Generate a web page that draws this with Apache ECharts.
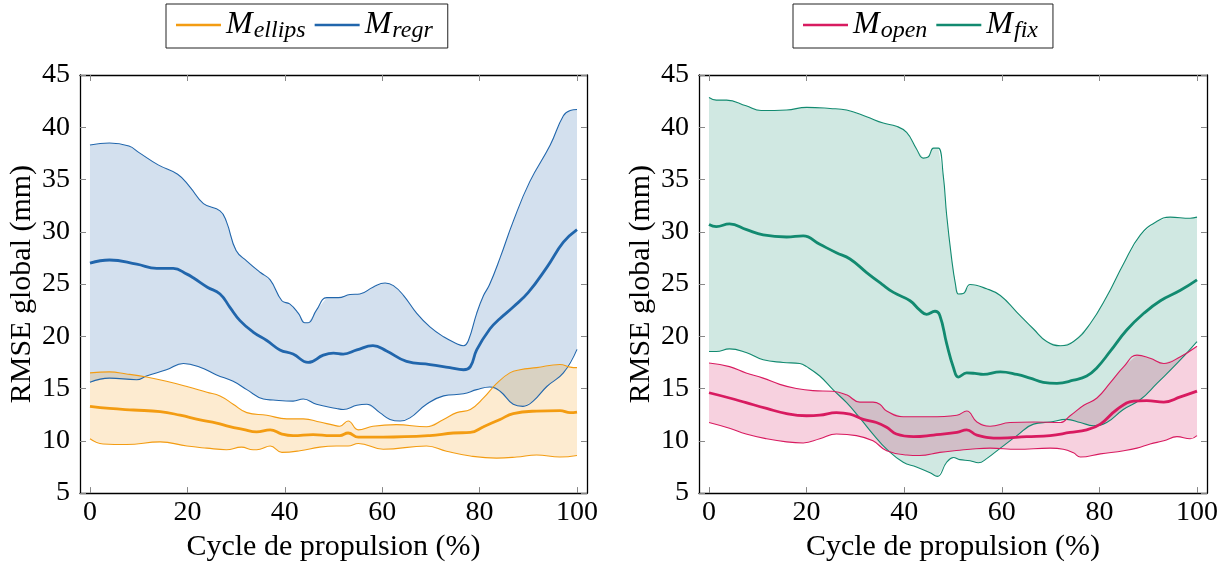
<!DOCTYPE html>
<html>
<head>
<meta charset="utf-8">
<script src="https://cdn.jsdelivr.net/npm/echarts@6/dist/echarts.min.js"></script>
<style>html,body{margin:0;padding:0;background:#fff}#c{width:1230px;height:567px}</style>
</head>
<body>
<div id="c"></div>
<script>
// ---------- data (x = % of propulsion cycle, y = RMSE in mm) ----------
const xTicks = [0, 20, 40, 60, 80, 100];

const ellipsUpper = [[0,16.5],[4,16.6],[7.5,16.4],[11.6,16.1],[15.7,15.7],[19.9,15.2],[24,14.65],[26.7,14.3],[29.4,13.5],[32.2,12.7],[36.3,12.45],[40.4,12.1],[43.8,12.1],[47.2,11.8],[50,11.5],[51.3,11.4],[53,11.9],[55.1,11.05],[58.1,11.4],[62.9,11.55],[69.1,11.35],[72.6,12.05],[75.3,12.7],[78.1,13.0],[80.8,14.1],[83.5,15.5],[86.2,16.5],[88.3,16.8],[91.7,17.0],[96.5,17.3],[98.6,17.05],[100,17.0]];
const ellipsMean = [[0,13.3],[4,13.1],[8.9,12.95],[14.4,12.8],[18.5,12.45],[22.6,12.0],[26,11.7],[28.7,11.35],[31.4,11.1],[34.2,10.85],[37,11.05],[39.4,10.65],[41.7,10.5],[45.8,10.6],[49.5,10.5],[51.3,10.5],[53,10.75],[55.1,10.35],[60.2,10.35],[69.8,10.5],[74.6,10.75],[78.1,10.8],[80.8,11.35],[84.2,12.05],[86.9,12.6],[91.7,12.85],[96.5,12.9],[98.6,12.7],[100,12.75]];
const ellipsLower = [[0,10.2],[2.7,9.7],[7.5,9.65],[14.4,9.9],[19.9,9.5],[24,9.3],[28,9.15],[31.1,9.4],[33.5,9.15],[34.9,9.2],[37,9.5],[39.4,8.9],[43.1,9.05],[47.2,9.4],[50.6,9.5],[53,9.5],[55.1,9.75],[60.2,9.2],[69.1,9.5],[73.2,9.0],[78.1,8.55],[83.5,8.35],[87.6,8.45],[91.7,8.65],[96.5,8.45],[100,8.6]];

const regrUpper = [[0,38.3],[4,38.5],[8,38.2],[10,37.6],[14,36.4],[18,35.5],[20.5,34.3],[23.3,32.7],[26.7,32.0],[28,31.0],[30,28.2],[32.2,27.2],[35,26.1],[37,25.4],[39.4,23.4],[41,23.1],[42.8,22.2],[44.1,21.3],[44.8,21.3],[46.5,22.5],[48.6,23.7],[51,23.7],[53.4,24.0],[55.4,24.05],[58.1,24.7],[60.6,25.1],[62.3,24.85],[64.4,23.9],[67.1,22.2],[69.8,20.9],[72.6,19.95],[75.3,19.3],[76.7,19.1],[77.7,19.6],[79.4,22.2],[80.8,23.9],[82,24.9],[84.2,27.5],[86.9,31.0],[90.3,34.8],[94.5,38.3],[97.2,41.1],[98.6,41.6],[100,41.7]];
const regrMean = [[0,27.0],[4,27.3],[9.6,26.9],[13.7,26.5],[17.1,26.5],[19.9,25.95],[21.2,25.6],[24.1,24.7],[26.7,24.05],[28.7,22.8],[30.8,21.5],[33.5,20.4],[36.3,19.6],[39,18.7],[41.7,18.3],[44.8,17.5],[47.9,18.2],[50,18.4],[52,18.3],[54.8,18.7],[58.1,19.1],[60.9,18.6],[65,17.6],[69.8,17.3],[73.9,17.0],[76.7,16.8],[78.1,17.1],[79.4,18.7],[82.1,20.7],[84.2,21.7],[86.9,22.8],[90,24.2],[93.8,26.6],[97.2,29.0],[100,30.2]];
const regrLower = [[0,15.6],[4,16.0],[9.6,15.85],[11.6,16.2],[15.7,16.8],[19.2,17.4],[22.6,17.05],[26,16.3],[29.4,15.7],[32.2,14.9],[35.6,14.0],[37.6,13.9],[41.7,13.8],[43.8,14.0],[46.5,13.5],[50.6,13.1],[52,13.0],[54.8,13.4],[56.8,13.5],[59.5,12.7],[61.6,12.05],[63.7,11.9],[65.7,12.2],[69.1,13.5],[72.6,14.3],[76.7,14.5],[79.4,14.9],[82.1,15.15],[84.2,14.75],[86.9,13.5],[88.9,13.3],[91,13.8],[93.8,15.2],[97.2,16.5],[100,18.75]];

const openUpper = [[0,17.45],[4.2,17.1],[7.6,16.5],[11.1,16.0],[14.5,15.4],[17.9,15.0],[21.3,14.8],[25.4,14.75],[28.2,14.4],[30.9,13.7],[33.6,13.7],[35,13.5],[36.4,12.85],[39.8,12.3],[45.3,12.3],[50.8,12.45],[52.8,12.85],[54.9,11.8],[57.6,11.4],[61.7,11.75],[66.5,11.8],[72,11.75],[74,12.4],[76.8,13.4],[79.5,14.1],[82.2,15.55],[85,17.1],[87.7,18.2],[90.4,17.9],[93.2,17.4],[96.6,18.05],[100,19.05]];
const openMean = [[0,14.6],[4.2,14.1],[7.6,13.65],[11.8,13.1],[15.9,12.6],[20,12.4],[22.7,12.45],[26.1,12.7],[28.9,12.55],[31.6,12.05],[34.3,11.75],[36.4,11.3],[38.4,10.65],[41.9,10.4],[46,10.55],[50.8,10.8],[52.8,11.05],[54.9,10.55],[59.7,10.25],[65.1,10.4],[69.9,10.5],[74,10.8],[77.4,11.05],[80.2,11.6],[83.6,13.0],[87,13.8],[89.7,13.85],[93.2,13.7],[96.6,14.2],[100,14.75]];
const openLower = [[0,11.75],[4.2,11.2],[7.6,10.65],[11.8,10.2],[15.9,9.9],[19.3,9.8],[22.7,10.2],[26.1,10.65],[30.2,10.5],[33.6,10.0],[36.4,9.05],[40.5,8.65],[43.2,8.6],[47.3,8.9],[51.4,9.1],[53.5,9.2],[57.6,9.3],[63.1,9.2],[69.9,9.3],[72.6,9.2],[74.7,8.85],[76.1,8.45],[80.2,8.75],[85,9.05],[87.7,9.3],[90.4,9.7],[93.2,10.0],[95.9,10.4],[98.6,10.2],[100,10.5]];

const fixUpper = [[0,42.85],[1.5,42.6],[3.6,42.6],[7.6,42.05],[10.7,41.6],[15.9,41.65],[20,41.9],[24.8,41.8],[28.2,41.65],[32.3,41.0],[35.7,40.4],[38.4,40.1],[40.5,39.5],[42.5,37.95],[43.9,37.05],[44.9,37.15],[46,38.0],[47,38.0],[48,35.4],[48.7,31.6],[49.7,27.5],[50.5,25.0],[51.1,24.05],[52.1,24.1],[53.5,24.95],[56.9,24.55],[59.7,23.9],[63.1,22.3],[66.5,20.7],[69.2,19.5],[72,19.1],[74.7,19.5],[78.1,21.2],[81.5,23.8],[84.9,26.9],[88.4,29.7],[91.8,31.0],[94.5,31.4],[98.6,31.3],[100,31.4]];
const fixMean = [[0,30.7],[1.5,30.5],[4.2,30.75],[7.7,30.2],[11.1,29.7],[15.9,29.5],[19.3,29.6],[22.7,28.8],[26.1,28.0],[28.9,27.4],[32.3,26.1],[35.4,25.0],[37.8,24.2],[41.2,23.4],[43.2,22.5],[44.6,22.1],[46.3,22.4],[47.3,22.0],[48.7,19.3],[50.1,17.0],[51.1,16.1],[52.8,16.5],[54.5,16.45],[56.2,16.35],[59.7,16.6],[63.1,16.35],[65.8,16.0],[68.5,15.6],[71.3,15.5],[74.7,15.8],[77.4,16.2],[79.5,17.0],[82.2,18.55],[85.6,20.6],[89.1,22.2],[92.5,23.4],[96.6,24.4],[100,25.4]];
const fixLower = [[0,18.55],[1.5,18.55],[4.2,18.8],[7.6,18.45],[11.1,17.75],[15.2,17.5],[18.6,17.4],[20,17.1],[22.7,16.2],[25.4,14.9],[28.2,13.65],[30.9,12.2],[33.6,10.65],[36.4,9.2],[39.8,7.95],[42.5,7.5],[45.3,6.95],[46.8,6.6],[48.7,7.95],[50.1,8.4],[51.4,8.2],[53.5,8.1],[55.2,7.9],[56.9,8.3],[59.7,9.3],[63.1,10.5],[66.5,11.6],[69.9,11.8],[73.3,12.05],[76.1,11.75],[78.8,11.45],[81.5,11.75],[84.9,13.0],[88.4,13.95],[91.8,15.5],[95.9,17.4],[100,19.5]];

// ---------- styling ----------
const FONT = "'Liberation Serif', 'DejaVu Serif', serif";
const C = {
  ellips: '#f39c12', regr: '#2166ac', open: '#d81b60', fix: '#128a70'
};
const FILL = {
  ellips: 'rgba(243,156,18,0.2)', regr: 'rgba(33,102,172,0.2)',
  open: 'rgba(216,27,96,0.2)', fix: 'rgba(18,138,112,0.2)'
};

const grids = [
  { left: 80, top: 75, width: 507, height: 423 },
  { left: 699, top: 75, width: 508, height: 423 }
];

function xAxes(g) {
  const base = {
    gridIndex: g, type: 'value', min: -2.05, max: 102.05,
    axisLine: { onZero: false, lineStyle: { color: '#000', width: 1.3 } },
    axisTick: { inside: true, length: 6, customValues: xTicks, lineStyle: { color: '#888', width: 1 } },
    splitLine: { show: false }
  };
  return [
    Object.assign({}, base, {
      position: 'bottom',
      axisLabel: { customValues: xTicks, fontFamily: FONT, fontSize: 28, color: '#000', margin: 6 },
      name: 'Cycle de propulsion (%)', nameLocation: 'middle', nameGap: 31,
      nameTextStyle: { fontFamily: FONT, fontSize: 30, color: '#000' }
    }),
    Object.assign({}, base, { position: 'top', axisLabel: { show: false } })
  ];
}
function yAxes(g) {
  const base = {
    gridIndex: g, type: 'value', min: 5, max: 45, interval: 5,
    axisLine: { onZero: false, show: true, lineStyle: { color: '#000', width: 1.3 } },
    axisTick: { show: true, inside: true, length: 6, lineStyle: { color: '#888', width: 1 } },
    splitLine: { show: false }
  };
  return [
    Object.assign({}, base, {
      position: 'left',
      axisLabel: { fontFamily: FONT, fontSize: 28, color: '#000', margin: 10 },
      name: 'RMSE global (mm)', nameLocation: 'middle', nameGap: 43,
      nameTextStyle: { fontFamily: FONT, fontSize: 30, color: '#000' }
    }),
    Object.assign({}, base, { position: 'right', axisLabel: { show: false } })
  ];
}

function band(key, upper, lower, axisIdx) {
  return {
    type: 'custom', xAxisIndex: axisIdx, yAxisIndex: axisIdx, silent: true, z: 1,
    data: [[50, 25]],
    renderItem: function (params, api) {
      const pts = upper.map(p => api.coord(p)).concat(lower.slice().reverse().map(p => api.coord(p)));
      return { type: 'polygon', shape: { points: pts }, style: { fill: FILL[key] } };
    }
  };
}
function line(name, key, data, axisIdx, width, z) {
  return {
    type: 'line', name: name, xAxisIndex: axisIdx, yAxisIndex: axisIdx, data: data,
    showSymbol: false, symbol: 'none', smooth: 0.45, silent: true, z: z,
    color: C[key], lineStyle: { color: C[key], width: width }
  };
}

const legendText = {
  fontFamily: FONT, color: '#000',
  rich: {
    m: { fontFamily: FONT, fontStyle: 'italic', fontSize: 32, color: '#000' },
    s: { fontFamily: FONT, fontStyle: 'italic', fontSize: 24, color: '#000', padding: [12, 0, 0, 1] }
  }
};
function legend(names, left) {
  return {
    data: names, left: left, top: 4, orient: 'horizontal',
    icon: 'rect', itemWidth: 45, itemHeight: 2.5, itemGap: 9,
    padding: [5, 15, 5, 10], borderColor: '#222', borderWidth: 1,
    textStyle: legendText,
    formatter: n => '{m|M}{s|' + n + '}'
  };
}

const option = {
  animation: false,
  backgroundColor: '#fff',
  textStyle: { fontFamily: FONT },
  grid: grids,
  legend: [legend(['ellips', 'regr'], 166), legend(['open', 'fix'], 793)],
  xAxis: xAxes(0).concat(xAxes(1)),
  yAxis: yAxes(0).concat(yAxes(1)),
  series: [
    band('regr', regrUpper, regrLower, 0),
    band('ellips', ellipsUpper, ellipsLower, 0),
    line('regr-up', 'regr', regrUpper, 0, 1.1, 3),
    line('regr-low', 'regr', regrLower, 0, 1.1, 3),
    line('ellips-up', 'ellips', ellipsUpper, 0, 1.1, 3),
    line('ellips-low', 'ellips', ellipsLower, 0, 1.1, 3),
    line('ellips', 'ellips', ellipsMean, 0, 2.8, 4),
    line('regr', 'regr', regrMean, 0, 2.8, 4),

    band('fix', fixUpper, fixLower, 2),
    band('open', openUpper, openLower, 2),
    line('fix-up', 'fix', fixUpper, 2, 1.1, 3),
    line('fix-low', 'fix', fixLower, 2, 1.1, 3),
    line('open-up', 'open', openUpper, 2, 1.1, 3),
    line('open-low', 'open', openLower, 2, 1.1, 3),
    line('open', 'open', openMean, 2, 2.8, 4),
    line('fix', 'fix', fixMean, 2, 2.8, 4)
  ]
};

const chart = echarts.init(document.getElementById('c'), null, { renderer: 'canvas' });
chart.setOption(option);
</script>
</body>
</html>
